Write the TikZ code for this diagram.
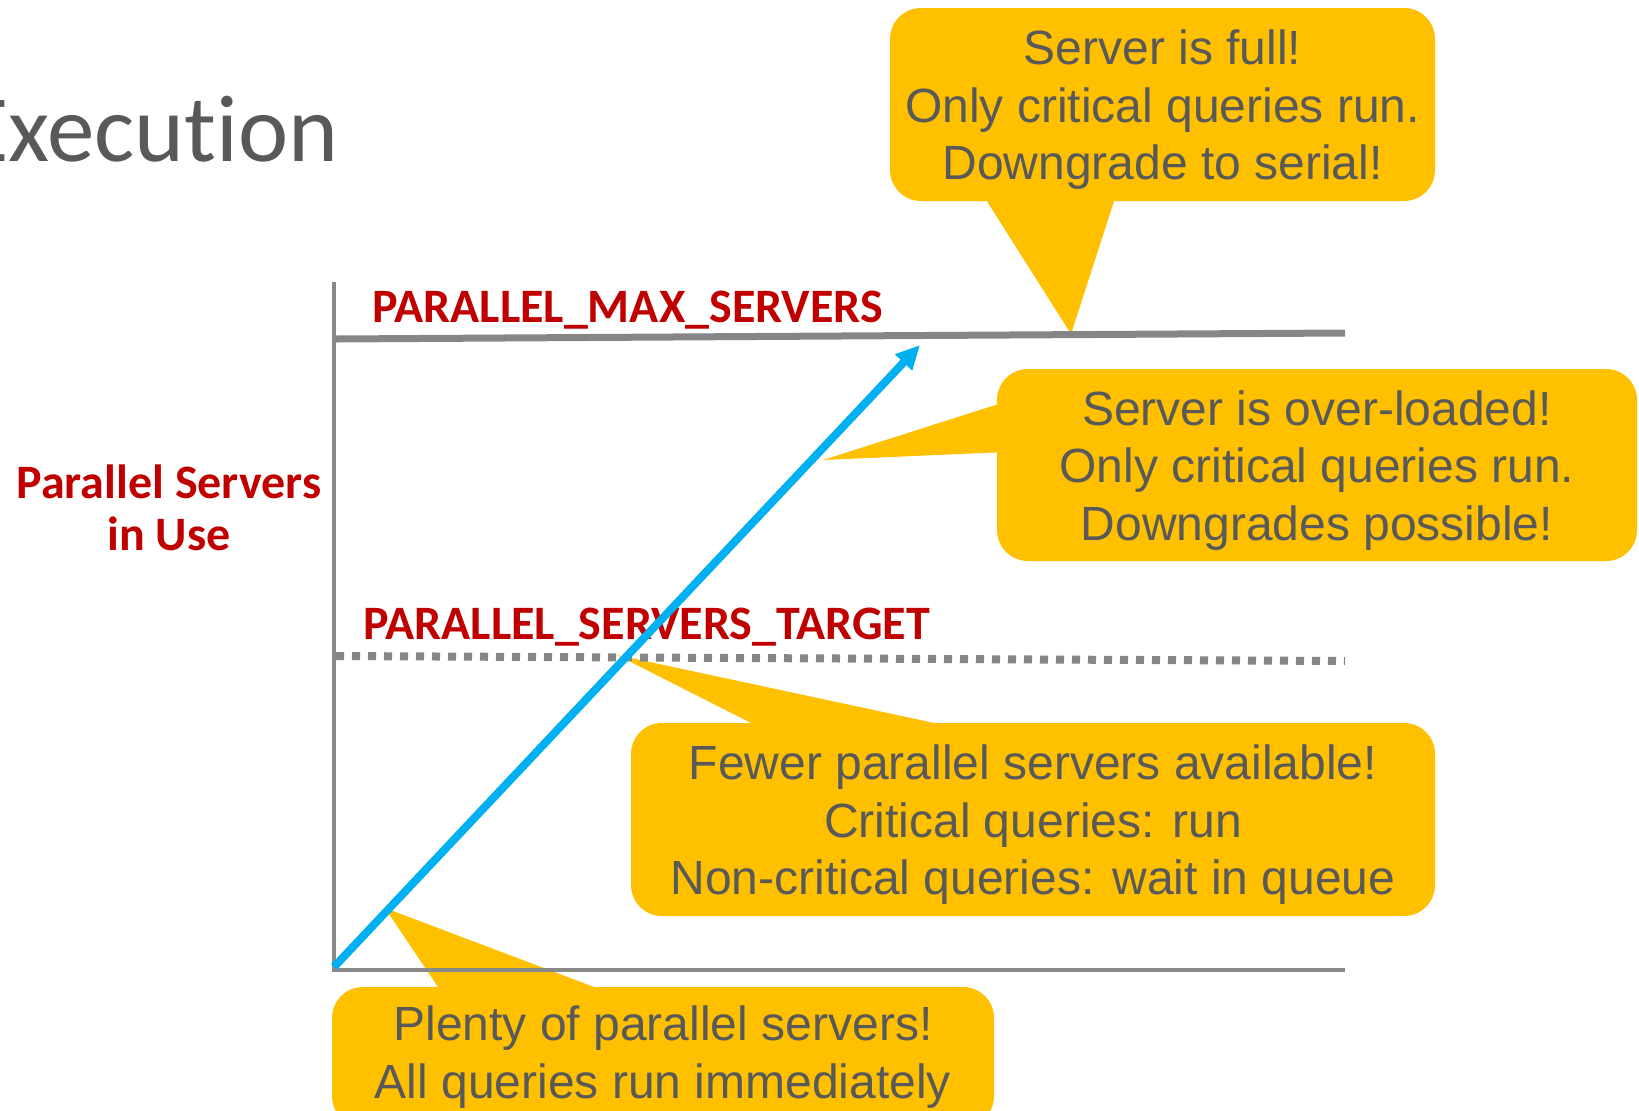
\documentclass[tikz,border=0pt]{standalone}
\usepackage{fontspec}
\setmainfont{Liberation Sans}
\newfontfamily\calibri[Ligatures=NoCommon]{Carlito}
\usetikzlibrary{arrows.meta}
\definecolor{calloutfill}{HTML}{FFC000}
\definecolor{txtgray}{HTML}{595959}
\definecolor{darkred}{HTML}{C00000}
\definecolor{axisgray}{HTML}{898989}
\definecolor{linegray}{HTML}{868686}
\definecolor{arrowblue}{HTML}{00B0F0}
\newcommand{\firststrut}{\rule{0pt}{45pt}}
\tikzset{
  callout/.style={fill=calloutfill, rounded corners=31pt, text=txtgray, align=center,
    font=\fontsize{48}{57.5}\selectfont, inner sep=0pt},
  tail/.style={fill=calloutfill},
  redlabel/.style={text=darkred, font=\calibri\bfseries\fontsize{48}{52}\selectfont, inner sep=0pt},
  axisline/.style={draw=axisgray, line width=4pt},
  maxline/.style={draw=linegray, line width=7pt},
  tgtline/.style={draw=linegray, line width=8pt, dash pattern=on 8pt off 8pt},
  growth/.style={draw=arrowblue, line width=8pt, -{Triangle[length=24pt,width=22pt]}}
}
\begin{document}
\begin{tikzpicture}[x=1pt,y=-1pt]
\useasboundingbox (0,0) rectangle (1639,1111);
\clip (0,0) rectangle (1639,1111);

% title (cut at the left edge, as in the reference)
\node[anchor=base west, text=txtgray, font=\calibri\fontsize{95}{114}\selectfont, inner sep=0pt]
  (title) at (-38,161) {Execution};

% callout tips
\coordinate (tipfull) at (1071,334);
\coordinate (tipover) at (823,460);
\coordinate (tipfewer) at (617,655);
\coordinate (tipplenty) at (385,908);

% tails
\fill[tail] (983,195) -- (1116,195) -- (tipfull) -- cycle;
\fill[tail] (1005,402) -- (1005,452) -- (tipover) -- cycle;
\fill[tail] (765,730) -- (967,730) -- (tipfewer) -- cycle;
\fill[tail] (442,993) -- (610,993) -- (tipplenty) -- cycle;

% callout boxes
\node[callout, minimum width=545pt, minimum height=193pt] (full) at (1162.5,104.5)
  {\firststrut Server is full!\\Only critical queries run.\\Downgrade to serial!};
\node[callout, minimum width=640pt, minimum height=192pt] (over) at (1317,465)
  {\firststrut Server is over-loaded!\\Only critical queries run.\\Downgrades possible!};
\node[callout, minimum width=804pt, minimum height=193pt] (fewer) at (1033,819.5)
  {\firststrut Fewer parallel servers available!\\Critical queries: run\\Non-critical queries: wait in queue};
\node[callout, minimum width=662pt, minimum height=140pt] (plenty) at (663,1057)
  {Plenty of parallel servers!\\All queries run immediately};

% labels
\node[redlabel, anchor=base west] (maxlabel) at (372,322) {PARALLEL\_MAX\_SERVERS};
\node[redlabel, anchor=base west] (tgtlabel) at (363,639) {PARALLEL\_SERVERS\_TARGET};
\node[redlabel, align=center] (ylabel) at (169,508) {Parallel Servers\\in Use};

% axes
\coordinate (ytop) at (334,282);
\coordinate (origin) at (334,970);
\coordinate (xend) at (1345,970);
\draw[axisline] (ytop) -- (origin) -- (xend);

% limit lines
\coordinate (maxL) at (336,339);
\coordinate (maxR) at (1345,333);
\draw[maxline] (maxL) -- (maxR);
\coordinate (tgtL) at (336,656);
\coordinate (tgtR) at (1345,661);
\draw[tgtline] (tgtL) -- (tgtR);

% growth arrow
\coordinate (start) at (334,967);
\coordinate (peak) at (920,345);
\draw[growth] (start) -- (peak);
\end{tikzpicture}
\end{document}
